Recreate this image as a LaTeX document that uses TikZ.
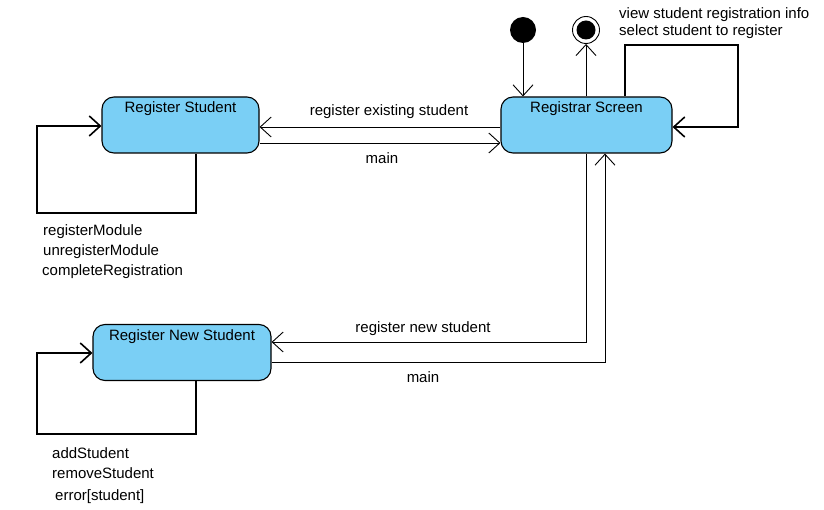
\documentclass[tikz,border=0pt]{standalone}
\usepackage{fontspec}
\setmainfont{Liberation Sans}
\usetikzlibrary{arrows.meta}
\definecolor{stfill}{RGB}{122,207,245}
\begin{document}
\begin{tikzpicture}[x=1pt,y=-1pt,
  every node/.style={font=\fontsize{15}{17}\selectfont, inner sep=0pt},
  stbox/.style={draw=black, line width=1.1pt, fill=stfill, rounded corners=12pt, minimum width=#1, minimum height=56pt},
  tr/.style={line width=0.9pt, -{Straight Barb[length=11pt,width=20pt,line width=0.9pt]}},
  loopl/.style={line width=2.2pt, -{Straight Barb[length=11pt,width=20pt,line width=1.6pt]}},
  lbl/.style={anchor=west},
  ttl/.style={anchor=north, yshift=-5pt}]
\useasboundingbox (0,0) rectangle (824,510);
% states
\node[stbox=157pt] (rs) at (180.5,125) {};
\node[ttl] at (rs.north) {Register Student};
\node[stbox=171pt] (scr) at (586.5,125) {};
\node[ttl] at (scr.north) {Registrar Screen};
\node[stbox=178pt] (rns) at (182,352.5) {};
\node[ttl] at (rns.north) {Register New Student};
% initial / final
\node[circle, fill=black, minimum size=26pt] (init) at (523,30) {};
\node[circle, draw=black, line width=0.9pt, minimum size=27pt] (fin) at (586,30) {};
\node[circle, fill=black, minimum size=19pt] (finin) at (586,30) {};
\draw[tr] (init.south) -- (init.south |- scr.north);
\draw[tr] (fin.south |- scr.north) -- (fin.south);
% transitions between states
\draw[tr] (scr.west |- 0,127) -- (rs.east |- 0,127);
\draw[tr] (rs.east |- 0,143) -- (scr.west |- 0,143);
\node at (389,111.5) {register existing student};
\node at (382,158.5) {main};
\draw[tr] (scr.south -| 586,0) |- (rns.east |- 0,342);
\draw[tr] (rns.east |- 0,362) -| (scr.south -| 605,0);
\node at (423,328.5) {register new student};
\node at (423,377.5) {main};
% self loops
\coordinate (l1) at (37,213);
\draw[loopl] (rs.south -| 196,0) |- (l1) |- (rs.west |- 0,126);
\coordinate (l2) at (37,434);
\draw[loopl] (rns.south -| 196,0) |- (l2) |- (rns.west |- 0,353);
\coordinate (l3) at (738,45);
\draw[loopl] (scr.north -| 625,0) |- (l3) |- (scr.east |- 0,127);
% loop labels
\node[lbl] at (43,231.5) {registerModule};
\node[lbl] at (43,251.5) {unregisterModule};
\node[lbl] at (42,271.5) {completeRegistration};
\node[lbl] at (52,453.5) {addStudent};
\node[lbl] at (52,473.5) {removeStudent};
\node[lbl] at (55,496.5) {error[student]};
\node[lbl] at (619,14.5) {view student registration info};
\node[lbl] at (619,31.5) {select student to register};
\end{tikzpicture}
\end{document}
